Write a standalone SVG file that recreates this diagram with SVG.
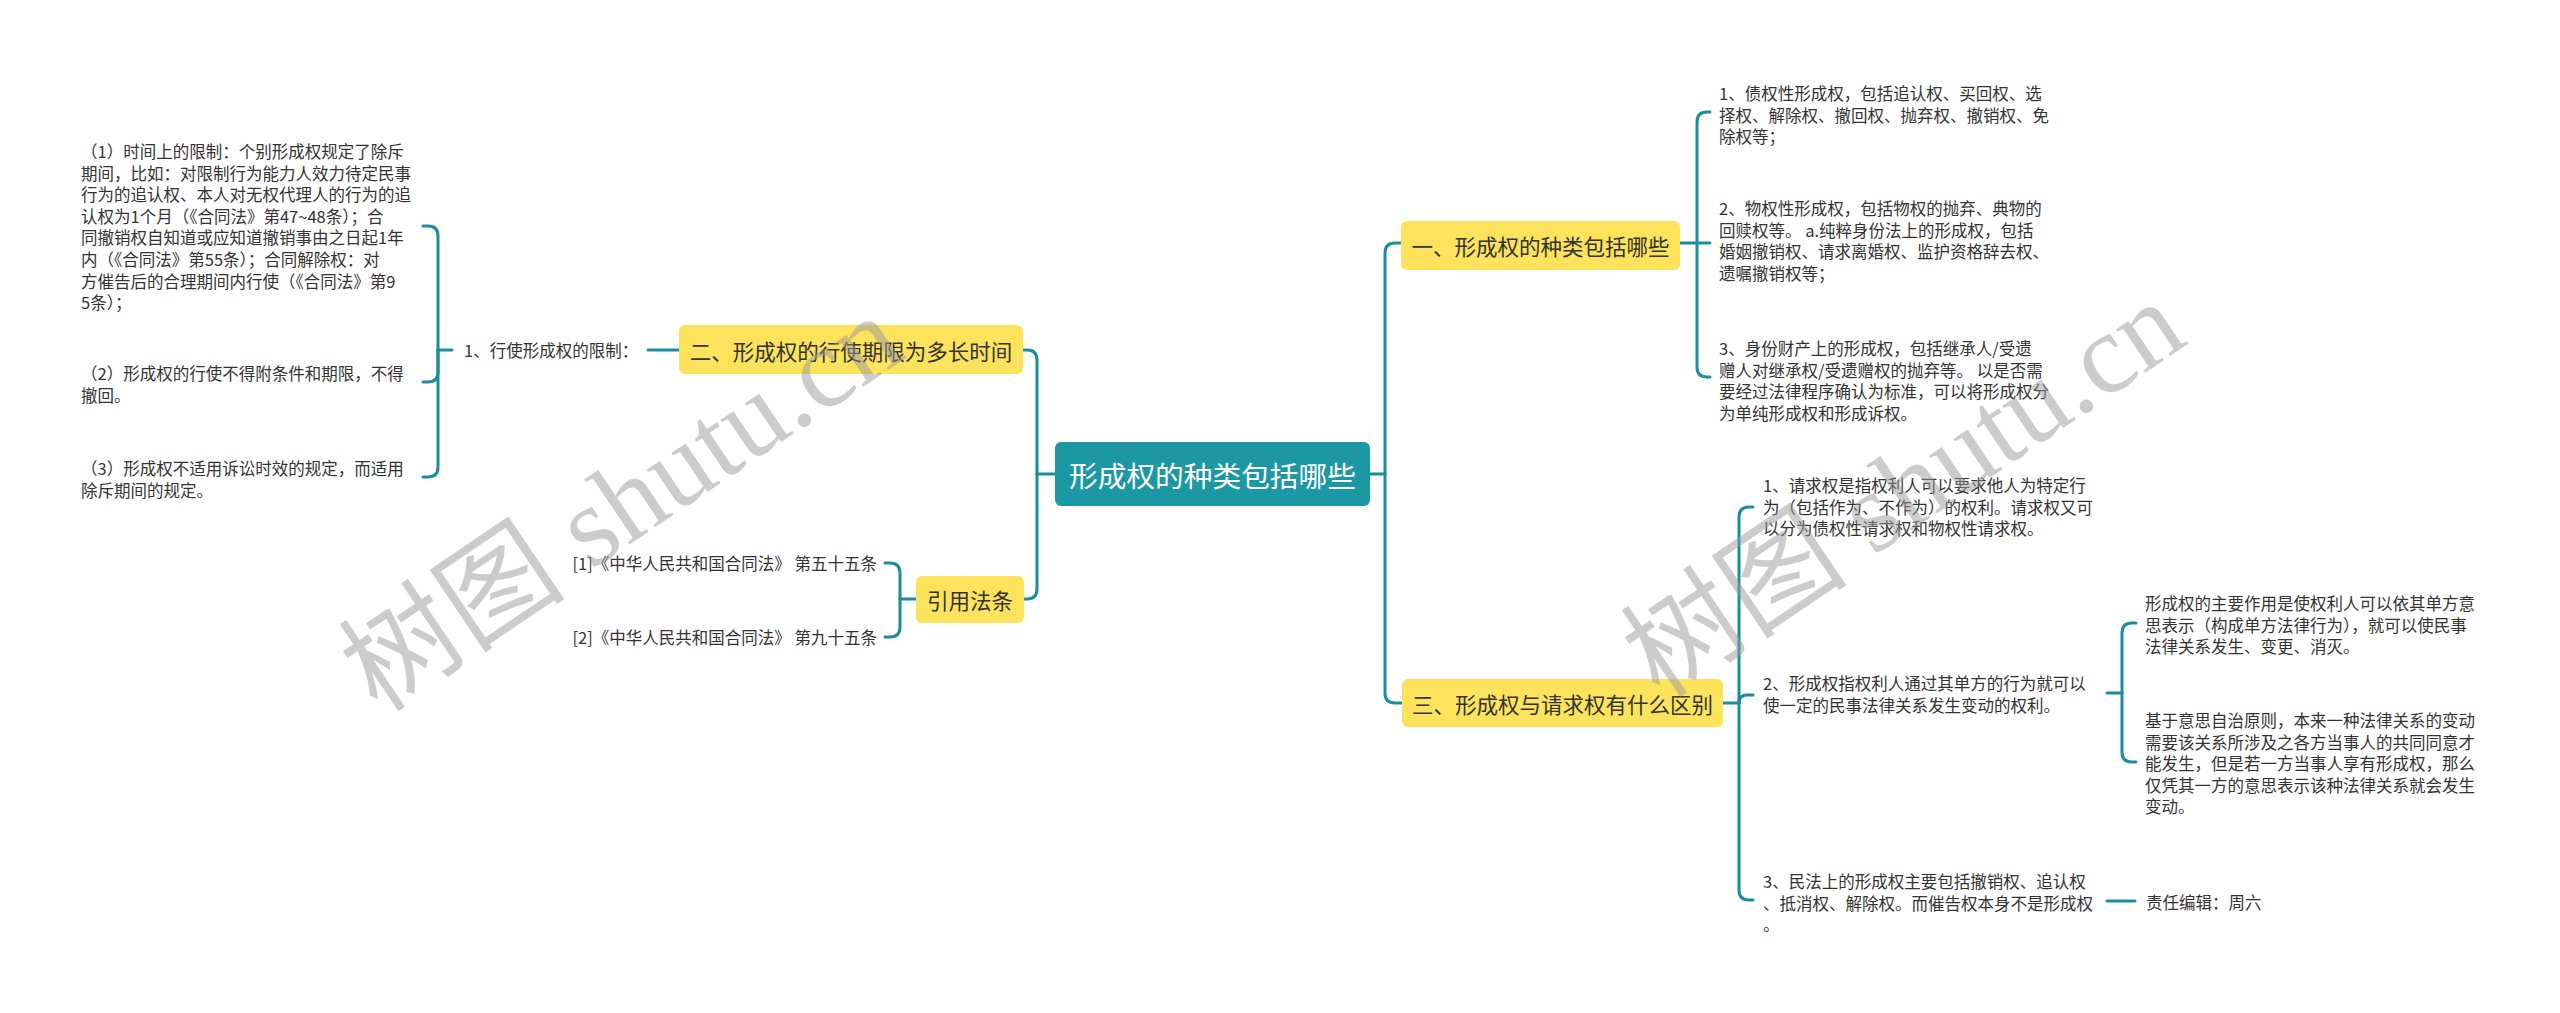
<svg xmlns="http://www.w3.org/2000/svg" width="2560" height="1013" viewBox="0 0 2560 1013">
<style>
.bg{fill:#ffffff}
.conn{fill:none;stroke:#1b8e9c;stroke-width:3;stroke-linecap:round;stroke-linejoin:round}
.root{fill:#1c98a5}
.main{fill:#fde35b}
.rt{font-family:"Noto Sans CJK SC",sans-serif;font-size:28.7px;fill:#ffffff;text-anchor:middle;dominant-baseline:central}
.mt{font-family:"Noto Sans CJK SC",sans-serif;font-size:21.5px;fill:#333333;text-anchor:middle;dominant-baseline:central}
.t{font-family:"Noto Sans CJK SC",sans-serif;font-size:16.5px;fill:#333333;dominant-baseline:central}
.wm{font-family:"Liberation Serif","Noto Sans CJK SC",serif;font-size:114px;fill:#9a9a9a;fill-opacity:0.5}
</style>
<rect class="bg" x="0" y="0" width="2560" height="1013"/>

<g id="connectors">
  <path class="conn" d="M1055 474 H1037"/>
  <path class="conn" d="M1037 474 V360 Q1037 350 1027 350 H1023"/>
  <path class="conn" d="M1037 474 V589 Q1037 599 1027 599 H1024"/>
  <path class="conn" d="M1370 474 H1385"/>
  <path class="conn" d="M1385 474 V253 Q1385 243 1395 243 H1401"/>
  <path class="conn" d="M1385 474 V693 Q1385 703 1395 703 H1402"/>
  <path class="conn" d="M679 350 H648"/>
  <path class="conn" d="M452 350 H438"/>
  <path class="conn" d="M438 350 V236 Q438 226 428 226 H423"/>
  <path class="conn" d="M438 350 V372 Q438 382 428 382 H423"/>
  <path class="conn" d="M438 350 V467 Q438 477 428 477 H423"/>
  <path class="conn" d="M916 599 H900"/>
  <path class="conn" d="M900 599 V573 Q900 563 890 563 H885"/>
  <path class="conn" d="M900 599 V627 Q900 637 890 637 H885"/>
  <path class="conn" d="M1680 243 H1710"/>
  <path class="conn" d="M1697 243 V122 Q1697 112 1707 112 H1710"/>
  <path class="conn" d="M1697 243 V367 Q1697 377 1707 377 H1710"/>
  <path class="conn" d="M1723 703 H1739"/>
  <path class="conn" d="M1739 703 V517 Q1739 507 1749 507 H1753"/>
  <path class="conn" d="M1739 703 Q1739 695 1747 695 H1753"/>
  <path class="conn" d="M1739 703 V890 Q1739 900 1749 900 H1753"/>
  <path class="conn" d="M2107 693 H2122"/>
  <path class="conn" d="M2122 693 V633 Q2122 623 2132 623 H2136"/>
  <path class="conn" d="M2122 693 V752 Q2122 762 2132 762 H2136"/>
  <path class="conn" d="M2107 901 H2135"/>
</g>

<g id="root">
  <rect class="root" x="1055" y="442" width="315" height="64" rx="6"/>
  <text class="rt" x="1212.5" y="474">形成权的种类包括哪些</text>
</g>

<g id="n2">
  <rect class="main" x="679" y="325" width="344" height="49" rx="6"/>
  <text class="mt" x="851" y="350">二、形成权的行使期限为多长时间</text>
</g>
<g id="n2-1">
  <text class="t" x="464" y="350">1、行使形成权的限制：</text>
</g>
<g id="n2-1-1">
  <text class="t" x="81" y="151">
    <tspan x="81" y="151">（1）时间上的限制：个别形成权规定了除斥</tspan>
    <tspan x="81" y="172.6">期间，比如：对限制行为能力人效力待定民事</tspan>
    <tspan x="81" y="194.2">行为的追认权、本人对无权代理人的行为的追</tspan>
    <tspan x="81" y="215.8">认权为1个月（《合同法》第47~48条）；合</tspan>
    <tspan x="81" y="237.4">同撤销权自知道或应知道撤销事由之日起1年</tspan>
    <tspan x="81" y="259">内（《合同法》第55条）；合同解除权：对</tspan>
    <tspan x="81" y="280.6">方催告后的合理期间内行使（《合同法》第9</tspan>
    <tspan x="81" y="302.2">5条）；</tspan>
  </text>
</g>
<g id="n2-1-2">
  <text class="t" x="81" y="373">
    <tspan x="81" y="373">（2）形成权的行使不得附条件和期限，不得</tspan>
    <tspan x="81" y="394.6">撤回。</tspan>
  </text>
</g>
<g id="n2-1-3">
  <text class="t" x="81" y="468">
    <tspan x="81" y="468">（3）形成权不适用诉讼时效的规定，而适用</tspan>
    <tspan x="81" y="489.6">除斥期间的规定。</tspan>
  </text>
</g>

<g id="n4">
  <rect class="main" x="916" y="576" width="108" height="47" rx="6"/>
  <text class="mt" x="970" y="599.5">引用法条</text>
</g>
<g id="n4-1">
  <text class="t" x="877" y="563" text-anchor="end">[1]《中华人民共和国合同法》 第五十五条</text>
</g>
<g id="n4-2">
  <text class="t" x="877" y="637" text-anchor="end">[2]《中华人民共和国合同法》 第九十五条</text>
</g>

<g id="n1">
  <rect class="main" x="1401" y="221" width="279" height="49" rx="6"/>
  <text class="mt" x="1540.5" y="245.5">一、形成权的种类包括哪些</text>
</g>
<g id="n1-1">
  <text class="t" x="1719" y="93">
    <tspan x="1719" y="93">1、债权性形成权，包括追认权、买回权、选</tspan>
    <tspan x="1719" y="114.6">择权、解除权、撤回权、抛弃权、撤销权、免</tspan>
    <tspan x="1719" y="136.2">除权等；</tspan>
  </text>
</g>
<g id="n1-2">
  <text class="t" x="1719" y="208">
    <tspan x="1719" y="208">2、物权性形成权，包括物权的抛弃、典物的</tspan>
    <tspan x="1719" y="229.6">回赎权等。 a.纯粹身份法上的形成权，包括</tspan>
    <tspan x="1719" y="251.2">婚姻撤销权、请求离婚权、监护资格辞去权、</tspan>
    <tspan x="1719" y="272.8">遗嘱撤销权等；</tspan>
  </text>
</g>
<g id="n1-3">
  <text class="t" x="1719" y="348">
    <tspan x="1719" y="348">3、身份财产上的形成权，包括继承人/受遗</tspan>
    <tspan x="1719" y="369.6">赠人对继承权/受遗赠权的抛弃等。 以是否需</tspan>
    <tspan x="1719" y="391.2">要经过法律程序确认为标准，可以将形成权分</tspan>
    <tspan x="1719" y="412.8">为单纯形成权和形成诉权。</tspan>
  </text>
</g>

<g id="n3">
  <rect class="main" x="1402" y="679" width="321" height="48" rx="6"/>
  <text class="mt" x="1562.5" y="703">三、形成权与请求权有什么区别</text>
</g>
<g id="n3-1">
  <text class="t" x="1763" y="485">
    <tspan x="1763" y="485">1、请求权是指权利人可以要求他人为特定行</tspan>
    <tspan x="1763" y="506.6">为（包括作为、不作为）的权利。请求权又可</tspan>
    <tspan x="1763" y="528.2">以分为债权性请求权和物权性请求权。</tspan>
  </text>
</g>
<g id="n3-2">
  <text class="t" x="1763" y="683">
    <tspan x="1763" y="683">2、形成权指权利人通过其单方的行为就可以</tspan>
    <tspan x="1763" y="704.6">使一定的民事法律关系发生变动的权利。</tspan>
  </text>
</g>
<g id="n3-2-1">
  <text class="t" x="2145" y="603">
    <tspan x="2145" y="603">形成权的主要作用是使权利人可以依其单方意</tspan>
    <tspan x="2145" y="624.6">思表示（构成单方法律行为），就可以使民事</tspan>
    <tspan x="2145" y="646.2">法律关系发生、变更、消灭。</tspan>
  </text>
</g>
<g id="n3-2-2">
  <text class="t" x="2145" y="720">
    <tspan x="2145" y="720">基于意思自治原则，本来一种法律关系的变动</tspan>
    <tspan x="2145" y="741.6">需要该关系所涉及之各方当事人的共同同意才</tspan>
    <tspan x="2145" y="763.2">能发生，但是若一方当事人享有形成权，那么</tspan>
    <tspan x="2145" y="784.8">仅凭其一方的意思表示该种法律关系就会发生</tspan>
    <tspan x="2145" y="806.4">变动。</tspan>
  </text>
</g>
<g id="n3-3">
  <text class="t" x="1763" y="881">
    <tspan x="1763" y="881">3、民法上的形成权主要包括撤销权、追认权</tspan>
    <tspan x="1763" y="902.6">、抵消权、解除权。而催告权本身不是形成权</tspan>
    <tspan x="1763" y="924.2">。</tspan>
  </text>
</g>
<g id="n3-3-1">
  <text class="t" x="2146" y="902">责任编辑：周六</text>
</g>

<g id="watermarks">
  <text class="wm" x="378" y="714" transform="rotate(-34 378 714)">树图 shutu.cn</text>
  <text class="wm" x="1660" y="700" transform="rotate(-34 1660 700)">树图 shutu.cn</text>
</g>
</svg>
